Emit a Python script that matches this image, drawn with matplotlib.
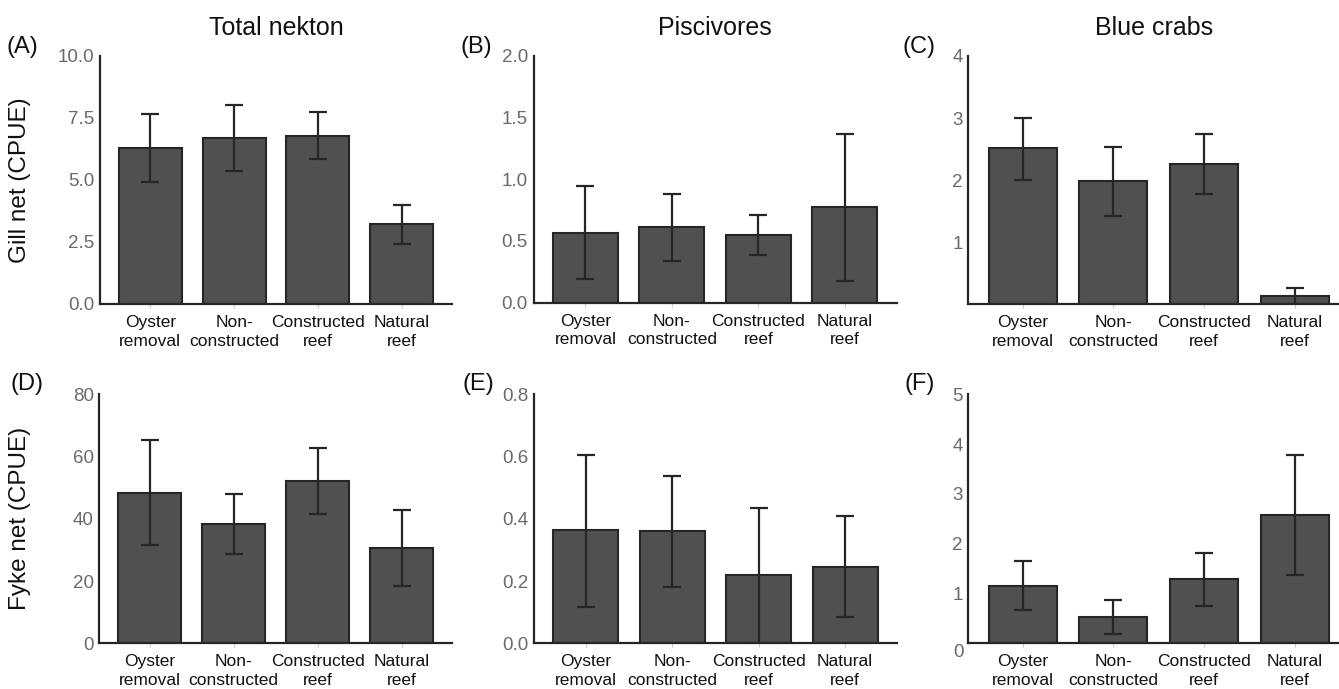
import matplotlib
matplotlib.use("Agg")
import matplotlib.pyplot as plt
import matplotlib.transforms as mtransforms
import numpy as np

plt.rcParams['font.family'] = ['Liberation Sans', 'DejaVu Sans']

W, H = 1339, 689

categories = ["Oyster\nremoval", "Non-\nconstructed", "Constructed\nreef", "Natural\nreef"]

col_titles = ["Total nekton", "Piscivores", "Blue crabs"]
row_labels = ["Gill net (CPUE)", "Fyke net (CPUE)"]
panel_letters = ["(A)", "(B)", "(C)", "(D)", "(E)", "(F)"]

# gill net
gill_total = [6.30, 6.68, 6.79, 3.21]
gill_total_lo = [4.93, 5.36, 5.86, 2.43]
gill_total_hi = [7.66, 8.01, 7.74, 4.00]

gill_pisc = [0.566, 0.61, 0.547, 0.772]
gill_pisc_lo = [0.19, 0.338, 0.385, 0.176]
gill_pisc_hi = [0.945, 0.878, 0.707, 1.37]

gill_crab = [2.51, 1.99, 2.26, 0.134]
gill_crab_lo = [2.00, 1.43, 1.78, 0.0]
gill_crab_hi = [3.00, 2.54, 2.74, 0.263]

# fyke net
fyke_total = [48.4, 38.3, 52.2, 30.7]
fyke_total_lo = [31.5, 28.6, 41.5, 18.4]
fyke_total_hi = [65.2, 47.9, 62.6, 42.7]

fyke_pisc = [0.363, 0.36, 0.218, 0.246]
fyke_pisc_lo = [0.118, 0.181, 0.0, 0.0835]
fyke_pisc_hi = [0.606, 0.537, 0.436, 0.409]

fyke_crab = [1.157, 0.52, 1.285, 2.58]
fyke_crab_lo = [0.67, 0.18, 0.75, 1.37]
fyke_crab_hi = [1.66, 0.87, 1.81, 3.78]

yticks_all = [
    [0.0, 2.5, 5.0, 7.5, 10.0],
    [0.0, 0.5, 1.0, 1.5, 2.0],
    [1, 2, 3, 4],
    [0, 20, 40, 60, 80],
    [0.0, 0.2, 0.4, 0.6, 0.8],
    [1, 2, 3, 4, 5],
]
ytick_fmt = ["{:.1f}", "{:.1f}", "{:d}", "{:d}", "{:.1f}", "{:d}"]
ylims = [10, 2, 4, 80, 0.8, 5]

panels = [
    (gill_total, gill_total_lo, gill_total_hi),
    (gill_pisc, gill_pisc_lo, gill_pisc_hi),
    (gill_crab, gill_crab_lo, gill_crab_hi),
    (fyke_total, fyke_total_lo, fyke_total_hi),
    (fyke_pisc, fyke_pisc_lo, fyke_pisc_hi),
    (fyke_crab, fyke_crab_lo, fyke_crab_hi),
]

# axes boxes in pixels: left, top, right, bottom
boxes = [
    (100, 56, 452, 304),
    (533.5, 56, 896.7, 302.5),
    (968.3, 56, 1340, 304.3),
    (99.3, 394.3, 452, 643.3),
    (534, 394.3, 897, 643.3),
    (968.3, 394.3, 1340, 643.3),
]
xmax = [4.6, 4.6, 4.5, 4.6, 4.6, 4.5]
letter_pos = [(7, 53), (460, 53), (902, 53), (10, 390), (462, 390), (905, 390)]

bar_fc = '#505052'
dark = '#262626'
tick_grey = '#6a6a6a'

fig = plt.figure(figsize=(W / 100, H / 100), dpi=100)

x = np.arange(1, 5)
for i, (vals, lo, hi) in enumerate(panels):
    l, t, r, b = boxes[i]
    ax = fig.add_axes([l / W, 1 - b / H, (r - l) / W, (b - t) / H])
    vals = np.array(vals)
    yerr = np.array([vals - np.array(lo), np.array(hi) - vals])
    ax.bar(x, vals, width=0.75, color=bar_fc, edgecolor=dark, linewidth=1.5, zorder=2)
    ax.errorbar(x, vals, yerr=yerr, fmt='none', ecolor=dark, elinewidth=1.6,
                capsize=6.5, capthick=1.6, zorder=3)
    ax.set_xlim(0.4, xmax[i])
    ax.set_ylim(0, ylims[i])
    ax.set_xticks(x)
    ax.set_xticklabels(categories, fontsize=12.5, color='#111111', linespacing=1.3)
    ax.set_yticks(yticks_all[i])
    ax.set_yticklabels([ytick_fmt[i].format(v) for v in yticks_all[i]])
    ax.tick_params(axis='y', length=0, pad=4, labelsize=13.5, labelcolor=tick_grey)
    ax.tick_params(axis='x', length=3, width=0.8, color='#cccccc', pad=5)
    for s in ['top', 'right']:
        ax.spines[s].set_visible(False)
    for s in ['left', 'bottom']:
        ax.spines[s].set_color(dark)
        ax.spines[s].set_linewidth(1.6)

    if i == 5:
        off = mtransforms.ScaledTranslation(-5 / 100, -9 / 100, fig.dpi_scale_trans)
        ax.text(0, 0, "0", transform=ax.get_yaxis_transform() + off,
                ha='right', va='center', fontsize=13.5, color=tick_grey)

    if i < 3:
        ax.set_title(col_titles[i], fontsize=18, pad=15, color='#111111')
    if i % 3 == 0:
        ax.set_ylabel(row_labels[i // 3], fontsize=17.5, color='#111111')
        ax.yaxis.set_label_coords((31 - l) / (r - l), 0.5)

    lx, ly = letter_pos[i]
    fig.text(lx / W, 1 - ly / H, panel_letters[i], fontsize=17, ha='left',
             va='baseline', color='#111111')

fig.savefig("out.png", dpi=100, facecolor='white')
